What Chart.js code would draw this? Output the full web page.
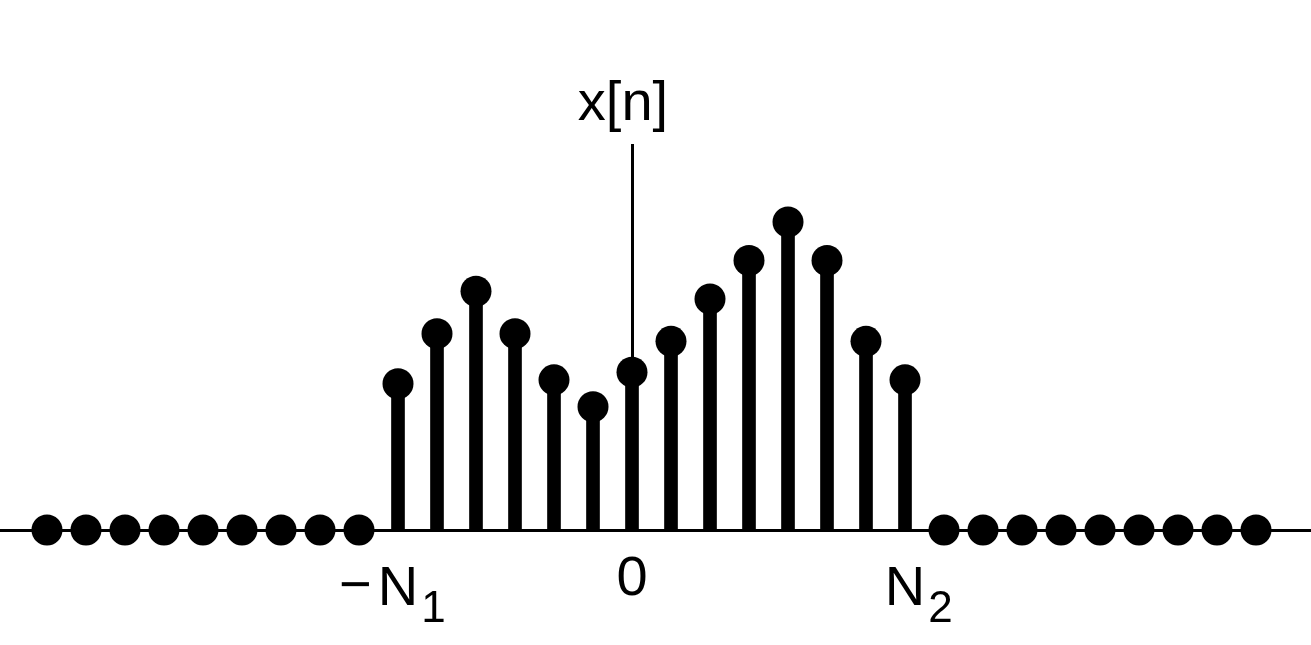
<!DOCTYPE html>
<html lang="en">
<head>
  <meta charset="UTF-8" />
  <title>x[n]</title>
  <script src="https://cdn.jsdelivr.net/npm/chart.js"></script>
  <style>
    html, body { margin: 0; padding: 0; background: #fff; }
    #chart-container { width: 1311px; height: 645px; }
  </style>
</head>
<body>
  <div id="chart-container">
    <canvas id="chart"></canvas>
  </div>

  <script>
    // sample index n
    const sampleN = [-15, -14, -13, -12, -11, -10, -9, -8, -7,
                     -6, -5, -4, -3, -2, -1, 0, 1, 2, 3, 4, 5, 6, 7,
                     8, 9, 10, 11, 12, 13, 14, 15, 16];
    // sample values x[n]
    const sampleX = [0, 0, 0, 0, 0, 0, 0, 0, 0,
                     3.8, 5.1, 6.2, 5.1, 3.9, 3.2, 4.1, 4.9, 6.0, 7.0, 8.0, 7.0, 4.9, 3.9,
                     0, 0, 0, 0, 0, 0, 0, 0, 0];
    // tick labels on the n axis: [n, prefix, main, subscript]
    const tickN = [-6, 0, 7];
    const tickPrefix = ['\u2212', '', ''];
    const tickMain = ['N', '0', 'N'];
    const tickSub = ['1', '', '2'];
    const axisLabel = 'x[n]';

    const points = sampleN.map((n, i) => ({ x: n, y: sampleX[i] }));
    const FONT = '"Liberation Sans", Arial, sans-serif';

    const labelPlugin = {
      id: 'stemLabels',
      afterDraw(chart) {
        const { ctx, scales: { x, y } } = chart;
        ctx.save();
        ctx.fillStyle = '#000';
        ctx.textBaseline = 'alphabetic';

        tickN.forEach((n, i) => {
          const px = x.getPixelForValue(n);
          const base = tickMain[i] === '0' ? 595 : 605;
          ctx.font = '56px ' + FONT;
          const w = ctx.measureText(tickMain[i]).width;
          ctx.textAlign = 'center';
          ctx.fillText(tickMain[i], px, base);
          if (tickPrefix[i]) {
            ctx.textAlign = 'right';
            ctx.fillText(tickPrefix[i], px - w / 2 - 6, base - 2);
          }
          if (tickSub[i]) {
            ctx.font = '44px ' + FONT;
            ctx.textAlign = 'left';
            ctx.fillText(tickSub[i], px + w / 2 + 3, base + 17);
          }
        });

        ctx.font = '56px ' + FONT;
        ctx.textAlign = 'center';
        ctx.fillText(axisLabel, x.getPixelForValue(0) - 9, 120);
        ctx.restore();
      }
    };

    const ctx = document.getElementById('chart').getContext('2d');
    new Chart(ctx, {
      type: 'bar',
      data: {
        datasets: [
          {
            type: 'scatter',
            data: points,
            pointRadius: 15.5,
            pointHoverRadius: 15.5,
            pointBorderWidth: 0,
            backgroundColor: '#000',
            showLine: false,
            clip: false,
            order: 1
          },
          {
            type: 'bar',
            data: points,
            backgroundColor: '#000',
            barThickness: 13,
            borderWidth: 0,
            clip: false,
            order: 2
          }
        ]
      },
      options: {
        responsive: true,
        maintainAspectRatio: false,
        animation: false,
        layout: {
          autoPadding: false,
          padding: { top: 145, bottom: 115, left: 0, right: 0 }
        },
        plugins: {
          legend: { display: false },
          tooltip: { enabled: false },
          title: { display: false }
        },
        scales: {
          x: {
            type: 'linear',
            min: -16.205,
            max: 17.41,
            offset: false,
            position: { y: 0 },
            grid: { display: false, offset: false },
            ticks: { display: false },
            border: { display: true, color: '#000', width: 3 }
          },
          y: {
            type: 'linear',
            min: 0,
            max: 10,
            position: { x: 0 },
            grid: { display: false },
            ticks: { display: false },
            border: { display: true, color: '#000', width: 3 }
          }
        }
      },
      plugins: [labelPlugin]
    });
  </script>
</body>
</html>
